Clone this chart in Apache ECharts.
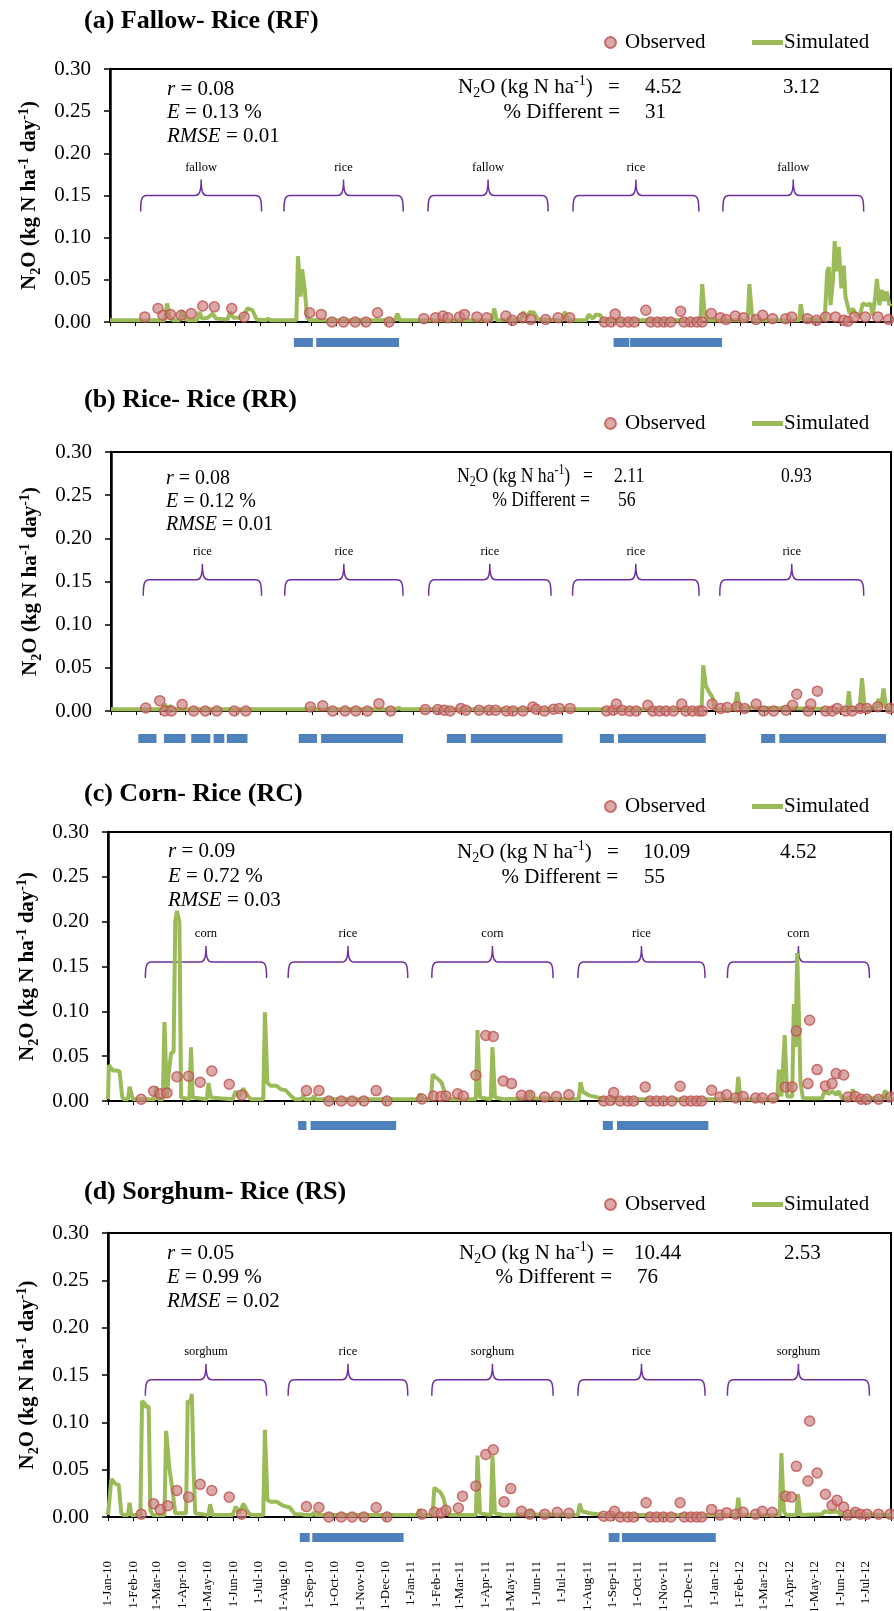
<!DOCTYPE html>
<html><head><meta charset="utf-8">
<script src="https://cdn.jsdelivr.net/npm/echarts@6/dist/echarts.min.js"></script>
<style>html,body{margin:0;padding:0;background:#fff}#c{width:894px;height:1611px}</style>
</head><body><div id="c"></div>
<script>
const SERIF = "'Times New Roman','Liberation Serif',serif";
const monthNames = ['Jan','Feb','Mar','Apr','May','Jun','Jul','Aug','Sep','Oct','Nov','Dec'];
const panelTitles = ['(a) Fallow- Rice (RF)','(b) Rice- Rice (RR)','(c) Corn- Rice (RC)','(d) Sorghum- Rice (RS)'];
// statistics
const statR = ['0.08','0.08','0.09','0.05'];
const statE = ['0.13','0.12','0.72','0.99'];
const statRMSE = ['0.01','0.01','0.03','0.02'];
const n2oSim = ['4.52','2.11','10.09','10.44'];
const n2oObs = ['3.12','0.93','4.52','2.53'];
const pctDiff = ['31','56','55','76'];
// x = days since 1-Jan-2010
const simA = [[0,0.002],[66,0.002],[69,0.022],[72,0.006],[76,0.002],[84,0.002],[87,0.014],[90,0.004],[95,0.002],[105,0.002],[108,0.012],[111,0.004],[118,0.005],[124,0.010],[128,0.004],[142,0.003],[145,0.012],[149,0.005],[160,0.005],[166,0.016],[172,0.014],[177,0.003],[188,0.002],[191,0.004],[194,0.002],[225,0.002],[227,0.078],[230,0.030],[232,0.0625],[235,0.040],[238,0.005],[241,0.002],[344,0.002],[347,0.010],[350,0.002],[461,0.002],[464,0.016],[467,0.002],[496,0.003],[499,0.012],[503,0.005],[507,0.012],[512,0.011],[517,0.003],[546,0.002],[549,0.012],[553,0.004],[558,0.002],[575,0.002],[578,0.009],[583,0.004],[587,0.009],[592,0.008],[595,0.002],[713,0.002],[715,0.045],[718,0.010],[721,0.002],[770,0.002],[772,0.045],[775,0.010],[778,0.002],[832,0.002],[834,0.021],[837,0.003],[863,0.003],[866,0.060],[868,0.065],[870,0.020],[873,0.050],[875,0.096],[877,0.060],[880,0.089],[883,0.040],[886,0.067],[888,0.030],[890,0.030],[893,0.010],[897,0.016],[902,0.006],[906,0.010],[909,0.022],[914,0.020],[918,0.022],[921,0.008],[924,0.030],[926,0.051],[929,0.020],[932,0.038],[935,0.025],[938,0.036],[941,0.020],[943,0.022]];
const obsA = [[42,0.006],[58,0.016],[64,0.008],[73,0.009],[86,0.008],[98,0.010],[112,0.019],[126,0.018],[147,0.016],[162,0.006],[241,0.011],[255,0.009],[268,0.000],[282,0.000],[296,0.000],[309,0.000],[323,0.011],[337,0.000],[379,0.004],[393,0.005],[402,0.007],[408,0.005],[422,0.006],[428,0.009],[443,0.006],[455,0.005],[478,0.007],[486,0.002],[498,0.005],[508,0.003],[526,0.003],[541,0.005],[555,0.005],[597,0.000],[605,0.000],[610,0.0095],[617,0],[626,0],[633,0],[647,0.014],[653,0],[661,0],[669,0],[677,0],[689,0.0127],[693,0],[701,0],[709,0],[715,0],[726,0.010],[737,0.005],[744,0.003],[755,0.007],[765,0.005],[780,0.003],[788,0.008],[800,0.004],[816,0.004],[823,0.006],[842,0.004],[853,0.002],[864,0.006],[876,0.006],[886,0.002],[891,0.001],[899,0.006],[912,0.006],[927,0.006],[940,0.003]];
const simB = [[0,0.002],[62,0.002],[65,0.008],[68,0.003],[72,0.006],[75,0.002],[240,0.002],[243,0.004],[246,0.002],[345,0.002],[348,0.004],[351,0.002],[714,0.002],[716,0.053],[719,0.030],[723,0.022],[727,0.016],[730,0.002],[754,0.002],[757,0.022],[760,0.004],[890,0.002],[892,0.023],[894,0.004],[898,0.003],[905,0.004],[908,0.038],[911,0.004],[925,0.003],[928,0.014],[931,0.004],[934,0.026],[937,0.003],[943,0.003]];
const obsB = [[42,0.0035],[59,0.012],[65,0.0],[73,0.0],[86,0.0075],[100,0],[114,0],[128,0],[149,0],[163,0],[241,0.0047],[256,0.006],[268,0],[283,0],[296,0],[310,0],[324,0.0085],[338,0],[380,0.0016],[395,0.0016],[403,0.001],[410,0],[423,0.003],[429,0.001],[445,0.001],[457,0.001],[465,0.001],[478,0],[486,0],[498,0],[510,0.0047],[514,0.002],[524,0],[535,0.002],[542,0.003],[555,0.003],[599,0],[607,0.001],[611,0.008],[618,0.001],[627,0],[635,0],[649,0.0066],[655,0],[663,0],[671,0],[680,0],[690,0.008],[695,0],[703,0],[711,0],[715,0],[727,0.008],[737,0.003],[745,0.004],[757,0.005],[766,0.003],[780,0.008],[789,0],[801,0],[816,0.001],[824,0.0066],[829,0.0194],[843,0],[846,0.008],[854,0.023],[864,0],[872,0],[878,0.003],[888,0],[896,0],[906,0.003],[914,0.003],[927,0.005],[942,0.003]];
const simC = [[0,0.002],[1,0.040],[3,0.042],[6,0.034],[10,0.034],[14,0.033],[17,0.005],[19,0.002],[24,0.002],[26,0.016],[28,0.014],[30,0.002],[56,0.002],[58,0.016],[61,0.002],[66,0.002],[68,0.088],[71,0.004],[73,0.030],[76,0.053],[79,0.055],[81,0.20],[83,0.212],[86,0.20],[88,0.004],[98,0.002],[100,0.060],[102,0.004],[119,0.002],[121,0.020],[124,0.004],[135,0.003],[150,0.002],[154,0.011],[158,0.004],[163,0.014],[168,0.006],[172,0.002],[187,0.002],[189,0.099],[192,0.020],[196,0.017],[203,0.017],[208,0.013],[214,0.012],[220,0.006],[225,0.002],[233,0.002],[235,0.006],[237,0.002],[246,0.002],[248,0.006],[250,0.002],[344,0.002],[346,0.004],[348,0.002],[373,0.002],[376,0.008],[379,0.002],[389,0.002],[391,0.0295],[394,0.027],[398,0.024],[402,0.020],[406,0.008],[410,0.002],[443,0.002],[445,0.079],[448,0.004],[461,0.002],[463,0.060],[466,0.004],[476,0.002],[478,0.003],[505,0.003],[508,0.011],[511,0.003],[567,0.002],[569,0.021],[572,0.010],[580,0.006],[590,0.004],[598,0.002],[757,0.002],[759,0.027],[762,0.002],[806,0.002],[808,0.035],[811,0.005],[813,0.005],[815,0.0735],[818,0.005],[824,0.005],[826,0.108],[828,0.06],[830,0.165],[832,0.10],[834,0.020],[837,0.003],[860,0.003],[863,0.011],[868,0.008],[872,0.011],[877,0.007],[880,0.011],[884,0.003],[895,0.003],[897,0.013],[900,0.003],[933,0.003],[936,0.012],[939,0.003],[943,0.003]];
const obsC = [[40,0.002],[55,0.011],[63,0.008],[71,0.009],[83,0.027],[97,0.0276],[111,0.021],[125,0.0335],[146,0.0187],[161,0.0067],[239,0.0116],[254,0.0116],[266,0],[281,0],[294,0],[308,0],[323,0.0116],[336,0],[378,0.0022],[392,0.0056],[401,0.005],[407,0.0056],[421,0.008],[428,0.0056],[443,0.0287],[455,0.073],[464,0.072],[476,0.0224],[486,0.0194],[498,0.0064],[508,0.0064],[526,0.0045],[540,0.005],[555,0.007],[597,0],[605,0.0007],[609,0.0094],[617,0],[626,0],[633,0],[647,0.0157],[653,0],[661,0],[669,0],[679,0],[689,0.0164],[694,0],[702,0],[709,0],[715,0],[727,0.012],[737,0.0045],[745,0.007],[756,0.0034],[765,0.005],[780,0.0034],[788,0.0034],[801,0.0034],[816,0.0157],[824,0.0157],[829,0.078],[843,0.0194],[845,0.09],[854,0.035],[864,0.0168],[872,0.0194],[877,0.0306],[886,0.029],[891,0.0045],[900,0.005],[907,0.002],[914,0.002],[928,0.002],[942,0.0045]];
const simD = [[0,0.002],[4,0.040],[6,0.0416],[9,0.035],[13,0.034],[16,0.004],[19,0.002],[24,0.002],[26,0.015],[28,0.002],[39,0.002],[41,0.1225],[44,0.12],[46,0.116],[49,0.117],[51,0.007],[54,0.002],[68,0.002],[70,0.091],[74,0.051],[78,0.026],[81,0.004],[94,0.004],[96,0.123],[99,0.12],[101,0.13],[103,0.053],[105,0.004],[121,0.002],[123,0.0134],[126,0.002],[150,0.002],[154,0.011],[158,0.004],[163,0.014],[168,0.006],[172,0.002],[187,0.002],[189,0.092],[192,0.018],[196,0.016],[203,0.016],[211,0.012],[219,0.010],[225,0.003],[233,0.003],[235,0.005],[237,0.002],[246,0.002],[248,0.005],[250,0.002],[344,0.002],[346,0.004],[348,0.002],[373,0.002],[375,0.008],[378,0.002],[391,0.002],[393,0.031],[397,0.028],[400,0.0265],[404,0.020],[408,0.005],[412,0.002],[443,0.002],[445,0.065],[448,0.004],[461,0.002],[463,0.065],[466,0.004],[477,0.002],[479,0.003],[506,0.003],[509,0.008],[512,0.003],[566,0.002],[568,0.014],[571,0.006],[580,0.004],[590,0.003],[598,0.002],[757,0.002],[759,0.0205],[762,0.002],[809,0.002],[811,0.0676],[814,0.006],[817,0.002],[829,0.002],[831,0.024],[834,0.002],[860,0.003],[863,0.006],[870,0.005],[878,0.006],[882,0.003],[895,0.003],[898,0.007],[901,0.003],[943,0.002]];
const obsD = [[40,0.003],[55,0.014],[63,0.008],[72,0.012],[83,0.028],[97,0.021],[111,0.0345],[125,0.028],[146,0.021],[161,0.003],[239,0.011],[254,0.010],[266,0],[281,0],[294,0],[308,0],[323,0.010],[336,0],[378,0.003],[393,0.005],[401,0.004],[407,0.007],[422,0.0095],[427,0.022],[443,0.0328],[455,0.066],[464,0.071],[477,0.016],[485,0.030],[498,0.006],[508,0.003],[526,0.003],[541,0.005],[555,0.004],[597,0.0008],[605,0.001],[610,0.006],[617,0],[626,0],[633,0],[648,0.015],[653,0],[661,0],[669,0],[678,0],[689,0.015],[694,0],[702,0],[709,0],[715,0],[727,0.008],[737,0.002],[745,0.0046],[756,0.003],[765,0.005],[780,0.003],[788,0.006],[800,0.005],[816,0.022],[823,0.021],[829,0.0535],[843,0.038],[845,0.1014],[854,0.0465],[864,0.024],[872,0.0124],[878,0.0176],[886,0.0106],[891,0.002],[900,0.005],[906,0.003],[914,0.003],[928,0.003],[942,0.003]];
// crop-season braces: [startDay, endDay]
const bracesA = [[37,183],[210,354],[384,529],[559,711],[740,910]];
const braceLabelsA = ['fallow','rice','fallow','rice','fallow'];
const bracesB = [[39,182],[210,353],[384,532],[558,711],[736,910]];
const braceLabelsB = ['rice','rice','rice','rice','rice'];
const bracesC = [[45,191],[217,361],[390,536],[566,719],[746,917]];
const braceLabelsC = ['corn','rice','corn','rice','corn'];
const bracesD = [[45,191],[217,361],[390,536],[566,719],[746,917]];
const braceLabelsD = ['sorghum','rice','sorghum','rice','sorghum'];
const braceLevel = [0.15, 0.152, 0.155, 0.145];
// flooded periods [startDay, endDay]
const floodA = [[222,245],[249,349],[608,627],[628,739]];
const floodB = [[33,55],[64,90],[97,120],[124,137],[140,165],[227,249],[254,353],[406,429],[435,546],[591,608],[613,719],[786,803],[808,937]];
const floodC = [[229,239],[244,347],[596,608],[613,723]];
const floodD = [[231,243],[246,356],[603,616],[619,732]];

const DAY_MAX = 943;
function day(d){ return new Date(2010,0,1+d).getTime(); }
function fmtDate(v){ if (v >= day(DAY_MAX)) return ''; const d=new Date(v); return d.getDate()+'-'+monthNames[d.getMonth()]+'-'+String(d.getFullYear()).slice(2); }

const panels = [
  {sim:simA, obs:obsA, br:bracesA, bl:braceLabelsA, fl:floodA},
  {sim:simB, obs:obsB, br:bracesB, bl:braceLabelsB, fl:floodB},
  {sim:simC, obs:obsC, br:bracesC, bl:braceLabelsC, fl:floodC},
  {sim:simD, obs:obsD, br:bracesD, bl:braceLabelsD, fl:floodD}
];
// layout (pixels)
const L = [
  {left:110, top:69, h:253, titleTop:8, legY:43, floodOff:16, fs:21, sxS:1, sxN:1, st:[167,89,112.5,136], n:{lx:458,y1:87,y2:112,eq:614,v1:645,v2:783,pr:620,pv:645}},
  {left:111, top:452, h:259, titleTop:387, legY:424, floodOff:23, fs:21, sxS:0.95, sxN:0.84, st:[166,478,501,524], n:{lx:457,y1:476,y2:500,eq:588,v1:614,v2:781,pr:590,pv:618}},
  {left:108, top:832, h:269, titleTop:781, legY:807, floodOff:20, fs:21, sxS:1, sxN:1, st:[168,851,876,900], n:{lx:457,y1:852,y2:877,eq:613,v1:643,v2:780,pr:618,pv:644}},
  {left:108, top:1233, h:284, titleTop:1179, legY:1205, floodOff:16, fs:21, sxS:1, sxN:1, st:[167,1253,1277,1301], n:{lx:459,y1:1253,y2:1277,eq:608,v1:634,v2:784,pr:612,pv:637}}
];

const grids=[], xAxes=[], yAxes=[], series=[], legends=[], titles=[], graphics=[];
const richName = {
  a:{fontFamily:SERIF,fontSize:21,fontWeight:'bold',color:'#000',lineHeight:28},
  s:{fontFamily:SERIF,fontSize:14,fontWeight:'bold',color:'#000',lineHeight:16,padding:[12,0,0,0]},
  p:{fontFamily:SERIF,fontSize:14,fontWeight:'bold',color:'#000',lineHeight:16,padding:[0,0,12,0]}
};
function richTxt(fs){ return {
  a:{fontFamily:SERIF,fontSize:fs,color:'#000',lineHeight:28},
  i:{fontFamily:SERIF,fontSize:fs,fontStyle:'italic',color:'#000',lineHeight:28},
  s:{fontFamily:SERIF,fontSize:Math.round(fs*0.65),color:'#000',lineHeight:16,padding:[12,0,0,0]},
  p:{fontFamily:SERIF,fontSize:Math.round(fs*0.65),color:'#000',lineHeight:16,padding:[0,0,12,0]}
};}

panels.forEach((P,i)=>{
  const g=L[i], rt=richTxt(g.fs);
  grids.push({left:g.left, right:3, top:g.top, height:g.h, show:true, borderColor:'#000', borderWidth:2, containLabel:false, outerBoundsMode:'none'});
  xAxes.push({type:'time', gridIndex:i, min:day(0), max:day(DAY_MAX), splitNumber:31, minInterval:28*864e5, maxInterval:31*864e5,
    axisLine:{show:true, onZero:false, lineStyle:{color:'#000', width:1.5}},
    axisTick:{show:true, length:4, lineStyle:{color:'#000', width:1}},
    axisLabel:{show:i===3, rotate:90, margin:44, fontFamily:SERIF, fontSize:13, color:'#000', interval:0, hideOverlap:false, formatter:fmtDate},
    splitLine:{show:false}, minorTick:{show:false}});
  yAxes.push({type:'value', gridIndex:i, min:0, max:0.3, interval:0.05,
    axisLine:{show:true, lineStyle:{color:'#000', width:2.5}},
    axisTick:{show:true, length:6, lineStyle:{color:'#000', width:1.5}},
    axisLabel:{formatter:v=>v.toFixed(2), fontFamily:SERIF, fontSize:21, color:'#000', margin:19},
    splitLine:{show:false},
    name:'{a|N}{s|2}{a|O (kg N ha}{p|-1}{a| day}{p|-1}{a|)}', nameLocation:'middle', nameRotate:90, nameGap:66,
    nameTextStyle:{rich:richName}});
  series.push({type:'line', name:'Simulated', xAxisIndex:i, yAxisIndex:i, data:P.sim.map(p=>[day(p[0]),p[1]]),
    symbol:'none', showSymbol:false, color:'#9BBB59', lineStyle:{color:'#9BBB59', width:4}, z:3, animation:false});
  series.push({type:'scatter', name:'Observed', xAxisIndex:i, yAxisIndex:i, data:P.obs.map(p=>[day(p[0]),p[1]]),
    symbol:'circle', symbolSize:10, itemStyle:{color:'rgba(200,128,126,0.85)', borderColor:'#C0504D', borderWidth:1.5}, z:4, animation:false});
  const labels=P.bl, lvl=braceLevel[i];
  series.push({type:'custom', name:'braces'+i, xAxisIndex:i, yAxisIndex:i, silent:true, z:2, animation:false,
    data:P.br.map(b=>[day(b[0]),day(b[1]),lvl]), encode:{x:[0,1], y:2},
    renderItem:function(params, api){
      const a=api.coord([api.value(0), api.value(2)]), b=api.coord([api.value(1), api.value(2)]);
      const x1=a[0], x2=b[0], y=a[1], xm=(x1+x2)/2, h=16, c=16;
      const d='M'+x1+','+(y+h)+' C'+x1+','+(y+4)+' '+(x1+1)+','+y+' '+(x1+6)+','+y+' L'+(xm-6)+','+y+' C'+(xm-2)+','+y+' '+xm+','+(y-3)+' '+xm+','+(y-c)+' C'+xm+','+(y-3)+' '+(xm+2)+','+y+' '+(xm+6)+','+y+' L'+(x2-6)+','+y+' C'+(x2-1)+','+y+' '+x2+','+(y+4)+' '+x2+','+(y+h);
      return {type:'group', children:[
        {type:'path', shape:{pathData:d}, style:{stroke:'#7030A0', lineWidth:1.5, fill:'none'}},
        {type:'text', x:xm, y:y-28, style:{text:labels[params.dataIndex], fontFamily:SERIF, fontSize:12.5, fill:'#000', align:'center', verticalAlign:'middle'}}
      ]};
    }});
  const off=g.floodOff;
  series.push({type:'custom', name:'flood'+i, xAxisIndex:i, yAxisIndex:i, silent:true, z:2, animation:false, clip:false,
    data:P.fl.map(f=>[day(f[0]),day(f[1]),0]), encode:{x:[0,1], y:2},
    renderItem:function(params, api){
      const a=api.coord([api.value(0),0]), b=api.coord([api.value(1),0]);
      return {type:'rect', shape:{x:a[0], y:a[1]+off, width:b[0]-a[0], height:9}, style:{fill:'#4F81BD'}};
    }});
  legends.push({data:[{name:'Observed', icon:'circle'}], left:604, top:g.legY-11, itemWidth:11, itemHeight:11, padding:0, selectedMode:false,
    textStyle:{fontFamily:SERIF, fontSize:21, color:'#000', padding:[0,0,0,4]}});
  legends.push({data:[{name:'Simulated', icon:'rect'}], left:752, top:g.legY-11, itemWidth:31, itemHeight:5, padding:0, selectedMode:false,
    textStyle:{fontFamily:SERIF, fontSize:21, color:'#000', padding:[0,0,0,-4]}});
  titles.push({text:panelTitles[i], left:84, top:g.titleTop, padding:0, textStyle:{fontFamily:SERIF, fontSize:26, fontWeight:'bold', color:'#000'}});
  const s=g.st;
  function txt(x,y,text,sx,align){ graphics.push({type:'text', x:x, y:y, scaleX:sx, style:{rich:rt, text:text, align:align||'left', verticalAlign:'middle'}}); }
  txt(s[0], s[1], '{i|r}{a| = '+statR[i]+'}', g.sxS);
  txt(s[0], s[2], '{i|E}{a| = '+statE[i]+' %}', g.sxS);
  txt(s[0], s[3], '{i|RMSE}{a| = '+statRMSE[i]+'}', g.sxS);
  const n=g.n;
  txt(n.lx, n.y1, '{a|N}{s|2}{a|O (kg N ha}{p|-1}{a|)}', g.sxN);
  txt(n.eq, n.y1, '{a|=}', g.sxN, 'center');
  txt(n.v1, n.y1, '{a|'+n2oSim[i]+'}', g.sxN);
  txt(n.v2, n.y1, '{a|'+n2oObs[i]+'}', g.sxN);
  txt(n.pr, n.y2, '{a|% Different =}', g.sxN, 'right');
  txt(n.pv, n.y2, '{a|'+pctDiff[i]+'}', g.sxN);
});

const chart = echarts.init(document.getElementById('c'), null, {renderer:'canvas'});
chart.setOption({backgroundColor:'#fff', animation:false, title:titles, legend:legends, grid:grids, xAxis:xAxes, yAxis:yAxes, series:series, graphic:graphics});
</script></body></html>
